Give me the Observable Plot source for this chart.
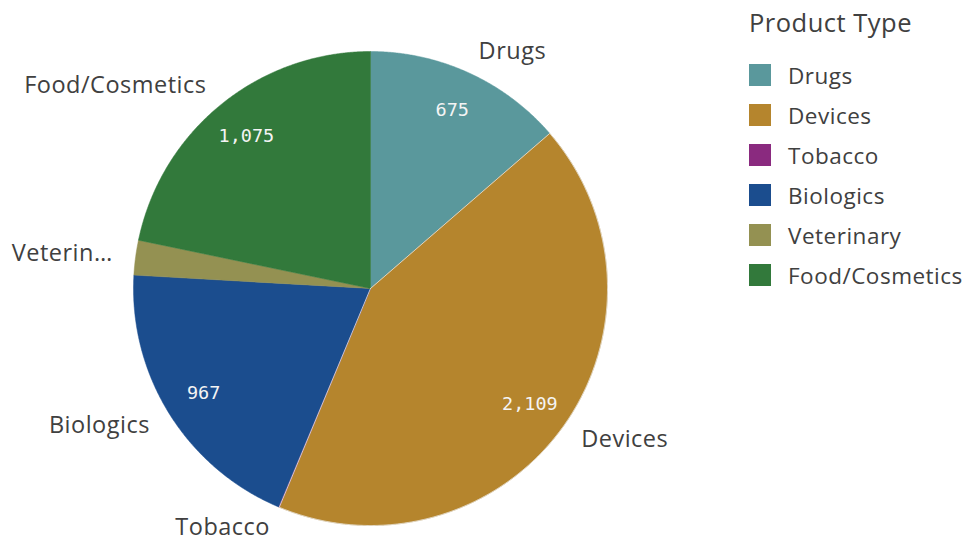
<!DOCTYPE html>
<html>
<head>
<meta charset="utf-8">
<script src="https://cdn.jsdelivr.net/npm/d3@7"></script>
<script src="https://cdn.jsdelivr.net/npm/@observablehq/plot@0.6"></script>
<style>
  html, body { margin: 0; padding: 0; background: #fff; }
  #wrap { position: relative; width: 972px; height: 539px; overflow: hidden; }
  #legend { position: absolute; left: 749px; top: 5px; font-family: "Open Sans", Roboto, sans-serif; color: #404040; }
  #legend .title { font-size: 25.5px; margin-bottom: 16px; letter-spacing: 0.5px; }
  #legend .item { display: flex; align-items: center; height: 40px; font-size: 22.5px; letter-spacing: 0.5px; }
  #legend .sw { width: 22px; height: 22px; margin-right: 17px; }
</style>
</head>
<body>
<div id="wrap"><div id="chart"></div><div id="legend"></div></div>
<script>
const categories = ["Drugs", "Devices", "Tobacco", "Biologics", "Veterinary", "Food/Cosmetics"];
const values = [675, 2109, 3, 967, 117, 1075];
const sliceLabels = ["Drugs", "Devices", "Tobacco", "Biologics", "Veterin…", "Food/Cosmetics"];
const colors = ["#5a989c", "#b5852d", "#8a2a7f", "#1b4d8e", "#949152", "#32793b"];
const legendTitle = "Product Type";

const data = categories.map((c, i) => ({cat: c, value: values[i], label: sliceLabels[i]}));
const arcs = d3.pie().sort(null).value(d => d.value)(data);

// outline of each slice: centre plus points along its arc
const outline = [];
for (const a of arcs) {
  outline.push({cat: a.data.cat, x: 0, y: 0});
  const n = Math.max(2, Math.ceil((a.endAngle - a.startAngle) / 0.005));
  for (let k = 0; k <= n; k++) {
    const t = a.startAngle + (a.endAngle - a.startAngle) * k / n;
    outline.push({cat: a.data.cat, x: Math.sin(t), y: Math.cos(t)});
  }
  outline.push({cat: a.data.cat, x: 0, y: 0});
}

const mids = arcs.map(a => {
  const m = (a.startAngle + a.endAngle) / 2;
  return {cat: a.data.cat, value: a.data.value, label: a.data.label,
          s: Math.sin(m), c: Math.cos(m),
          frac: (a.endAngle - a.startAngle) / (2 * Math.PI)};
});
const LR = 1.097, VR = 0.83;
const fmt = d3.format(",");

const chart = Plot.plot({
  width: 972,
  height: 539,
  margin: 0,
  x: {domain: [-1, 1], range: [133, 607], axis: null},
  y: {domain: [-1, 1], range: [525, 51], axis: null},
  color: {domain: categories, range: colors},
  style: {background: "#fff"},
  marks: [
    Plot.line(outline, {x: "x", y: "y", z: "cat", fill: "cat", stroke: "cat", strokeWidth: 0.5}),
    Plot.line(outline.filter(d => d.cat === "Devices"), {x: "x", y: "y", stroke: "#e8e4dc", strokeWidth: 0.9, strokeOpacity: 0.9}),
    Plot.text(mids.filter(d => d.s >= 0), {
      x: d => d.s * LR, y: d => d.c * LR, text: "label", dy: -1,
      textAnchor: "start", fontSize: 23.5, fill: "#404040", fontFamily: "Open Sans"
    }),
    Plot.text(mids.filter(d => d.s < 0), {
      x: d => d.s * LR, y: d => d.c * LR, text: "label", dy: -1,
      textAnchor: "end", fontSize: 23.5, fill: "#404040", fontFamily: "Open Sans"
    }),
    Plot.text(mids.filter(d => d.frac > 0.05), {
      x: d => d.s * VR, y: d => d.c * VR, text: d => fmt(d.value),
      fontSize: 18.5, fill: "#f4f4f4", fontFamily: "DejaVu Sans Mono"
    })
  ]
});
chart.querySelectorAll("g[aria-label=text]").forEach(g => {
  if (g.getAttribute("font-family") === "Open Sans") g.querySelectorAll("text").forEach(t => t.setAttribute("letter-spacing", "0.5"));
});
document.getElementById("chart").appendChild(chart);

const lg = document.getElementById("legend");
const t = document.createElement("div");
t.className = "title"; t.textContent = legendTitle; lg.appendChild(t);
categories.forEach((c, i) => {
  const it = document.createElement("div"); it.className = "item";
  const sw = document.createElement("div"); sw.className = "sw"; sw.style.background = colors[i];
  const tx = document.createElement("span"); tx.textContent = c;
  it.appendChild(sw); it.appendChild(tx); lg.appendChild(it);
});
</script>
</body>
</html>
